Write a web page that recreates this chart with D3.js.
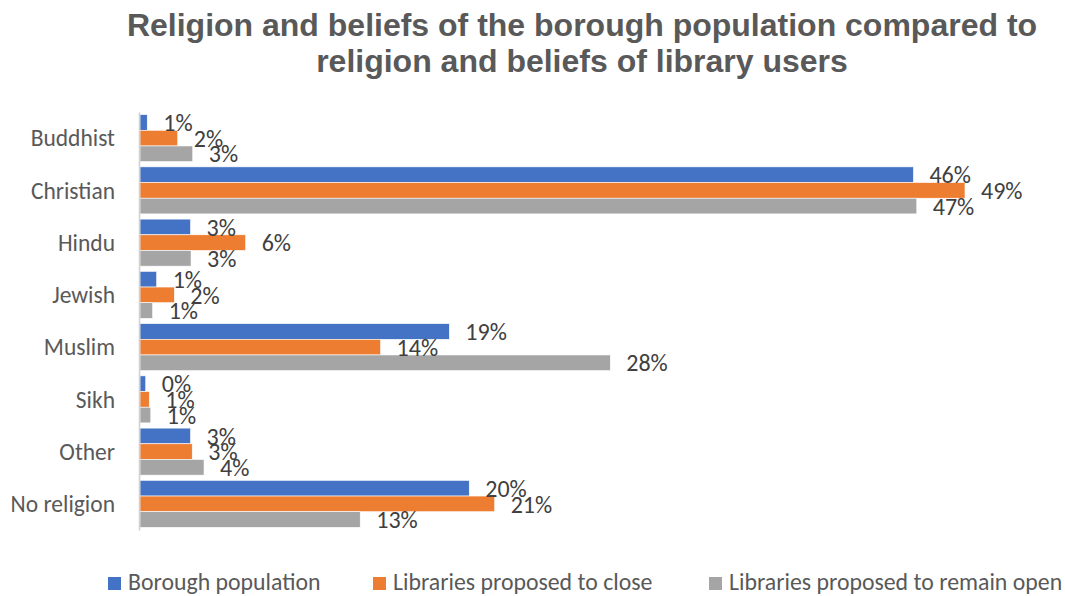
<!DOCTYPE html>
<html>
<head>
<meta charset="utf-8">
<script src="https://cdn.jsdelivr.net/npm/d3@7"></script>
<style>
  html, body { margin: 0; padding: 0; background: #fff; }
  svg { display: block; }
</style>
</head>
<body>
<svg id="chart" width="1065" height="596"></svg>
<script>
const categories = ["Buddhist", "Christian", "Hindu", "Jewish", "Muslim", "Sikh", "Other", "No religion"];
const seriesNames = ["Borough population", "Libraries proposed to close", "Libraries proposed to remain open"];
const boroughValues = [0.43, 45.9, 3.0, 0.99, 18.36, 0.34, 3.0, 19.54];
const closeValues   = [2.24, 48.96, 6.27, 2.04, 14.28, 0.55, 3.1, 21.05];
const openValues    = [3.13, 46.1, 3.03, 0.75, 27.91, 0.64, 3.8, 13.07];
const boroughLabels = ["1%", "46%", "3%", "1%", "19%", "0%", "3%", "20%"];
const closeLabels   = ["2%", "49%", "6%", "2%", "14%", "1%", "3%", "21%"];
const openLabels    = ["3%", "47%", "3%", "1%", "28%", "1%", "4%", "13%"];
const seriesColors  = ["#4472C4", "#ED7D31", "#A5A5A5"];
const titleLines = ["Religion and beliefs of the borough population compared to", "religion and beliefs of library users"];

const allValues = [boroughValues, closeValues, openValues];
const allLabels = [boroughLabels, closeLabels, openLabels];

const svg = d3.select("#chart");
const bodyFont = "Calibri, Carlito, Lato, sans-serif";

// Title
svg.append("g").selectAll("text").data(titleLines).join("text")
  .attr("x", 582).attr("y", (d, i) => 36 + i * 36)
  .attr("text-anchor", "middle")
  .attr("font-family", "Arial, 'Liberation Sans', sans-serif")
  .attr("font-weight", "bold").attr("font-size", 32)
  .attr("fill", "#595959")
  .text(d => d);

const x = d3.scaleLinear().domain([0, 50]).range([140, 140 + 50 * 16.85]);
const y0 = d3.scaleBand().domain(categories).range([112, 530]).paddingInner(0.1).paddingOuter(0.05);
const y1 = d3.scaleBand().domain(d3.range(3)).range([0, y0.bandwidth()]);

const rows = [];
categories.forEach((c, ci) => {
  for (let s = 0; s < 3; s++) rows.push({ cat: c, s, v: allValues[s][ci], label: allLabels[s][ci] });
});

const g = svg.append("g");
g.selectAll("rect").data(rows).join("rect")
  .attr("x", x(0))
  .attr("y", d => y0(d.cat) + y1(d.s))
  .attr("width", d => x(d.v) - x(0))
  .attr("height", y1.bandwidth())
  .attr("fill", d => seriesColors[d.s])
  .attr("stroke", "#ffffff").attr("stroke-width", 0.6);

// Axis line (category axis)
const yAxis = d3.axisLeft(y0).tickSize(0).tickPadding(24);
const ax = svg.append("g").attr("transform", `translate(139,0)`).call(yAxis);
ax.select(".domain").attr("stroke", "#d0d0d0").attr("stroke-width", 1.5);
ax.selectAll("text")
  .attr("font-family", bodyFont).attr("font-size", 23.5)
  .attr("fill", "#595959").attr("dy", "0.35em");

// Data labels
g.selectAll("text.lbl").data(rows).join("text").attr("class", "lbl")
  .attr("x", d => x(d.v) + 16)
  .attr("y", d => y0(d.cat) + y1(d.s) + y1.bandwidth() / 2)
  .attr("dy", "0.36em")
  .attr("font-family", bodyFont).attr("font-size", 24)
  .attr("fill", "#404040")
  .text(d => d.label);

// Legend
const legendX = [108, 373, 709];
const lg = svg.append("g").selectAll("g").data(seriesNames).join("g")
  .attr("transform", (d, i) => `translate(${legendX[i]},577)`);
lg.append("rect").attr("width", 13).attr("height", 13).attr("fill", (d, i) => seriesColors[i]);
lg.append("text").attr("x", 20).attr("y", 12.5)
  .attr("font-family", bodyFont).attr("font-size", 23.8)
  .attr("fill", "#595959").text(d => d);
</script>
</body>
</html>
